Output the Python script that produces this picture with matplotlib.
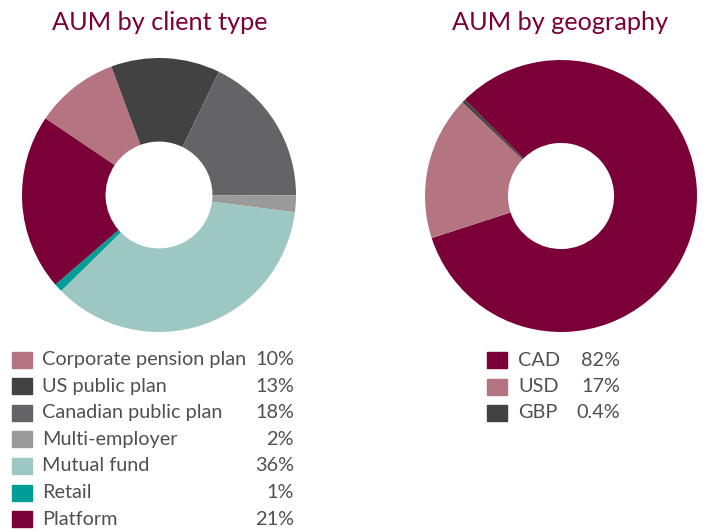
import matplotlib
matplotlib.use("Agg")
import matplotlib.pyplot as plt
from matplotlib.patches import Rectangle

plt.rcParams['font.family'] = ['Lato', 'DejaVu Sans']

# data
client_labels = ['Corporate pension plan', 'US public plan', 'Canadian public plan',
                 'Multi-employer', 'Mutual fund', 'Retail', 'Platform']
client_values = [10, 13, 18, 2, 36, 1, 21]
client_pct = ['10%', '13%', '18%', '2%', '36%', '1%', '21%']
client_colors = ['#b57580', '#424242', '#646466', '#9a9a9a', '#9dc7c3', '#009e96', '#7b0037']

geo_labels = ['CAD', 'USD', 'GBP']
geo_values = [82, 17, 0.4]
geo_pct = ['82%', '17%', '0.4%']
geo_colors = ['#7b0037', '#b57580', '#424242']

W, H = 716, 529
TITLE_COL = '#7b0037'
TEXT_COL = '#505050'

fig = plt.figure(figsize=(W / 100, H / 100), dpi=100)


def donut(cx, cy, r, values, colors, start):
    ax = fig.add_axes([(cx - r) / W, 1 - (cy + r) / H, 2 * r / W, 2 * r / H])
    ax.pie(values, colors=colors, startangle=start, counterclock=False,
           radius=1, wedgeprops=dict(width=0.61, linewidth=0))
    ax.set_xlim(-1, 1)
    ax.set_ylim(-1, 1)
    ax.set_aspect('equal')
    ax.axis('off')


def legend(x_sq, x_txt, x_pct, y0, dy, labels, pcts, colors):
    for i, (lab, p, c) in enumerate(zip(labels, pcts, colors)):
        y = y0 + i * dy
        fig.patches.append(Rectangle((x_sq / W, 1 - (y + 8) / H), 20 / W, 16 / H,
                                     transform=fig.transFigure, color=c))
        fig.text(x_txt / W, 1 - y / H, lab, fontsize=14.3, color=TEXT_COL,
                 ha='left', va='center')
        fig.text(x_pct / W, 1 - y / H, p, fontsize=14.3, color=TEXT_COL,
                 ha='right', va='center')


donut(159, 195, 137, client_values, client_colors, 146)
donut(561, 196, 136, geo_values, geo_colors, 135)

fig.text(160 / W, 1 - 22 / H, 'AUM by client type', fontsize=18.2, color=TITLE_COL,
         ha='center', va='center')
fig.text(560 / W, 1 - 22 / H, 'AUM by geography', fontsize=18.2, color=TITLE_COL,
         ha='center', va='center')

legend(12, 42, 294, 359.5, 26.6, client_labels, client_pct, client_colors)
legend(487, 518, 620, 360, 26.5, geo_labels, geo_pct, geo_colors)

fig.savefig('out.png', dpi=100)
